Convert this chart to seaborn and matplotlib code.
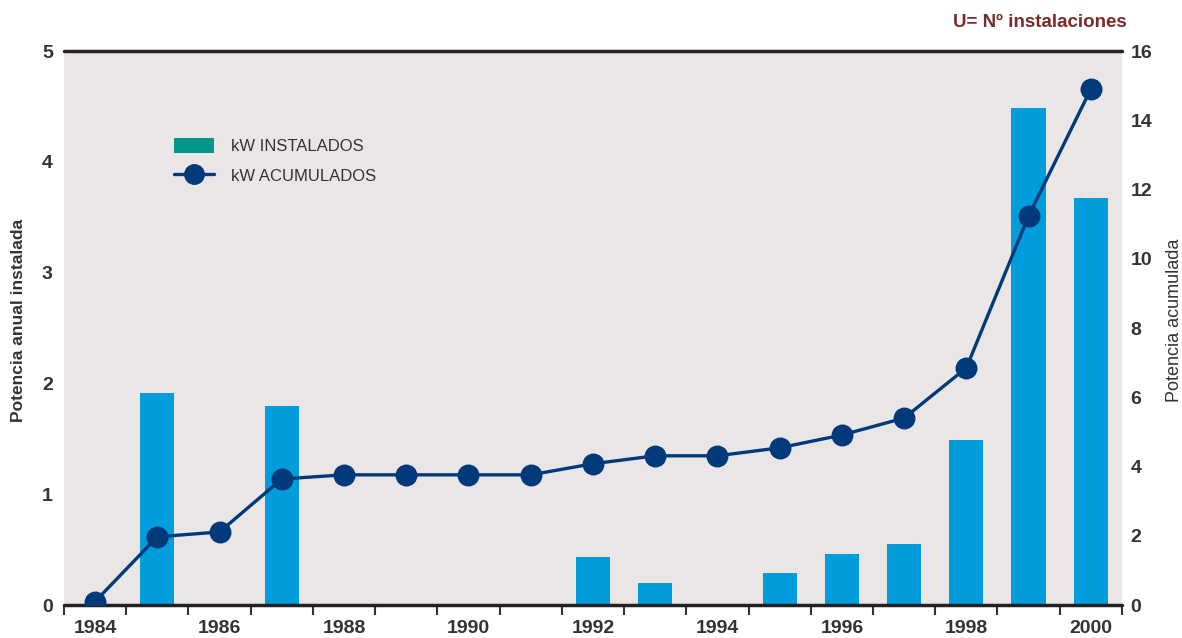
import numpy as np
import pandas as pd
import matplotlib
matplotlib.use("Agg")
import matplotlib.pyplot as plt
from matplotlib.lines import Line2D
from matplotlib.patches import Patch
import seaborn as sns

years = list(range(1984, 2001))
kw_instalados = [0, 1.91, 0, 1.80, 0, 0, 0, 0, 0.43, 0.20, 0, 0.29, 0.46, 0.55, 1.49, 4.49, 3.67]
kw_acumulados = [0.1, 1.97, 2.11, 3.64, 3.76, 3.76, 3.76, 3.76, 4.08, 4.31, 4.31, 4.54, 4.91, 5.40, 6.85, 11.24, 14.9]

df = pd.DataFrame({"year": years, "inst": kw_instalados, "acum": kw_acumulados})

sns.set_style("white")
plt.rcParams["font.family"] = ["Liberation Sans", "DejaVu Sans"]

bar_color = "#009cdc"
line_color = "#003a7a"
text_color = "#333333"

fig = plt.figure(figsize=(11.82, 6.38), dpi=100)
ax = fig.add_axes([0.0541, 0.0517, 0.8951, 0.8683])
ax.set_facecolor("#ebe6e6")

sns.barplot(data=df, x="year", y="inst", color=bar_color, width=0.55,
            saturation=1, linewidth=0, ax=ax, zorder=2)

ax2 = ax.twinx()
sns.pointplot(data=df, x="year", y="acum", color=line_color, ax=ax2,
              markers="o", markersize=14, linewidth=2.4)

for a in (ax, ax2):
    a.set_xlim(-0.5, len(years) - 0.5)
    for s in ("left", "right", "top", "bottom"):
        a.spines[s].set_visible(False)

ax.set_ylim(0, 5)
ax2.set_ylim(0, 16)
ax.axhline(5, color="#222222", lw=2.5, zorder=5, clip_on=False)
ax.axhline(0, color="#222222", lw=2.5, zorder=5, clip_on=False)

# year boundaries as ticks, labels on every other year
ax.set_xticks(np.arange(-0.5, len(years), 1.0))
ax.set_xticklabels([])
ax.set_xticks(np.arange(0, len(years), 2), minor=True)
ax.set_xticklabels([str(y) for y in years[::2]], minor=True)
ax.tick_params(axis="x", which="major", direction="out", length=7, width=1.5,
               color="#333333", bottom=True)
ax.tick_params(axis="x", which="minor", length=0, pad=11,
               labelsize=14, labelcolor=text_color)
for t in ax.get_xticklabels(minor=True):
    t.set_fontweight("bold")

ax.set_yticks(range(0, 6))
ax.tick_params(axis="y", length=0, pad=8, labelsize=14, labelcolor=text_color)
ax2.set_yticks(range(0, 17, 2))
ax2.tick_params(axis="y", length=0, pad=6, labelsize=14, labelcolor=text_color)
for t in ax.get_yticklabels() + ax2.get_yticklabels():
    t.set_fontweight("bold")

ax.set_xlabel("")
ax.set_ylabel("")
ax2.set_xlabel("")
ax2.set_ylabel("")
fig.text(0.016, 0.498, "Potencia anual instalada", rotation=90, ha="center",
         va="center", fontsize=12.5, fontweight="bold", color=text_color)
fig.text(0.994, 0.498, "Potencia acumulada", rotation=90, ha="center",
         va="center", fontsize=13, color=text_color)

handles = [Patch(facecolor="#00968a", edgecolor="none"),
           Line2D([0], [0], color=line_color, lw=2.4, marker="o", markersize=14)]
leg = ax.legend(handles, ["kW INSTALADOS", "kW ACUMULADOS"],
                loc="upper left", bbox_to_anchor=(0.09, 0.87), frameon=False,
                fontsize=12, handlelength=2.4, handleheight=1.0,
                labelspacing=0.8, handletextpad=1.0)
for t in leg.get_texts():
    t.set_color(text_color)

fig.text(0.953, 0.965, "U= Nº instalaciones", ha="right", va="center",
         fontsize=13.5, fontweight="bold", color="#7b2b2b")

fig.savefig("out.png", dpi=100)
